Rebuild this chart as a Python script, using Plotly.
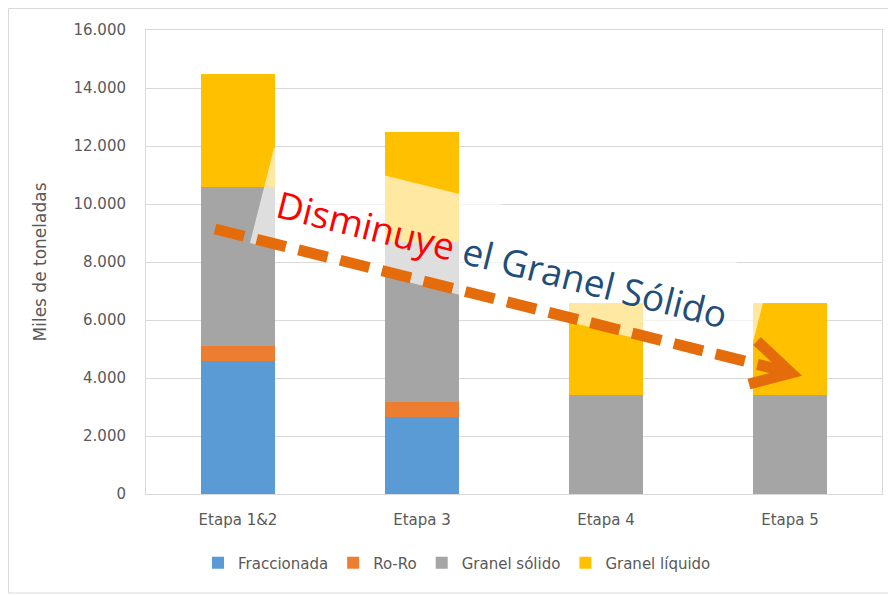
import plotly.graph_objects as go

etapas = ['Etapa 1&2', 'Etapa 3', 'Etapa 4', 'Etapa 5']
fraccionada = [4600, 2650, 0, 0]
ro_ro = [500, 530, 0, 0]
granel_solido = [5500, 5520, 3420, 3420]
granel_liquido = [3880, 3800, 3180, 3180]
y_ticks = [0, 2000, 4000, 6000, 8000, 10000, 12000, 14000, 16000]

series_colors = {
    'Fraccionada': '#5B9BD5',
    'Ro-Ro': '#ED7D31',
    'Granel sólido': '#A5A5A5',
    'Granel líquido': '#FFC000',
}

# page has an 8px body margin, so the figure is drawn 8px smaller and shifted
OFF = 8
W, H = 896 - OFF, 596 - OFF
L, R, T, B = 146 - OFF, 14, 30 - OFF, 102
pw, ph = W - L - R, H - T - B


def px(x, y):
    # reference pixel position -> paper coords
    return (x - OFF - L) / pw, (H - B - (y - OFF)) / ph


def path(points, close=False):
    s = ''
    for i, (x, y) in enumerate(points):
        xp, yp = px(x, y)
        s += ('M' if i == 0 else 'L') + f'{xp:.4f},{yp:.4f} '
    return s + ('Z' if close else '')


fig = go.Figure()
for name, vals in [('Fraccionada', fraccionada), ('Ro-Ro', ro_ro),
                   ('Granel sólido', granel_solido), ('Granel líquido', granel_liquido)]:
    fig.add_trace(go.Bar(x=etapas, y=vals, name=name, marker=dict(color=series_colors[name], line=dict(width=0)),
                         hoverinfo='skip'))

font_small = 'DejaVu Sans'
gray_txt = '#595959'

fig.update_layout(
    width=W, height=H,
    margin=dict(l=L, r=R, t=T, b=B),
    barmode='stack', bargap=0.6,
    separators=',.',
    plot_bgcolor='white', paper_bgcolor='white',
    font=dict(family=font_small, size=15, color=gray_txt),
    legend=dict(orientation='h', x=px(457, 0)[0], xanchor='center', y=px(0, 563)[1], yanchor='middle',
                font=dict(size=15, color=gray_txt), traceorder='normal', itemwidth=30),
    showlegend=True,
)
fig.update_yaxes(range=[0, 16000], tickvals=y_ticks, tickformat=',d', gridcolor='#D9D9D9', gridwidth=1,
                 showline=True, linecolor='#D9D9D9', mirror=True, zeroline=False,
                 ticklabelstandoff=16, tickfont=dict(size=15, color=gray_txt),
                 title=dict(text='Miles de toneladas', font=dict(size=17, color=gray_txt), standoff=22))
fig.update_xaxes(showline=True, linecolor='#D9D9D9', mirror=True, ticklabelstandoff=12,
                 tickfont=dict(size=15, color=gray_txt))

# translucent banner behind the text
fig.add_shape(type='path', xref='paper', yref='paper', layer='above',
              path=path([(274, 148), (771, 271), (747, 366), (250, 243)], close=True),
              fillcolor='rgba(255,255,255,0.63)', line=dict(width=0))

# dashed arrow
x0, y0 = px(215, 229)
x1, y1 = px(784, 371)
fig.add_shape(type='line', xref='paper', yref='paper', layer='above', x0=x0, y0=y0, x1=x1, y1=y1,
              line=dict(color='#E46C0A', width=11, dash='30px,13px'))
fig.add_shape(type='path', xref='paper', yref='paper', layer='above',
              path=path([(757, 341), (791, 373), (749, 384)]),
              fillcolor='rgba(0,0,0,0)', line=dict(color='#E46C0A', width=11))

tx, ty = px(502, 258)
fig.add_annotation(xref='paper', yref='paper', x=tx, y=ty, showarrow=False, textangle=14,
                   text="<span style='color:#FF0000'>Disminuye</span> el Granel Sólido",
                   font=dict(family='Open Sans', size=37, color='#1F4E79'))

# outer chart border
bx0, by0 = px(8.5, 593)
bx1, by1 = px(889, 8.5)
fig.add_shape(type='rect', xref='paper', yref='paper', x0=bx0, y0=by0, x1=bx1, y1=by1,
              line=dict(color='#D9D9D9', width=1), fillcolor='rgba(0,0,0,0)', layer='below')

fig.write_html('out.html')
